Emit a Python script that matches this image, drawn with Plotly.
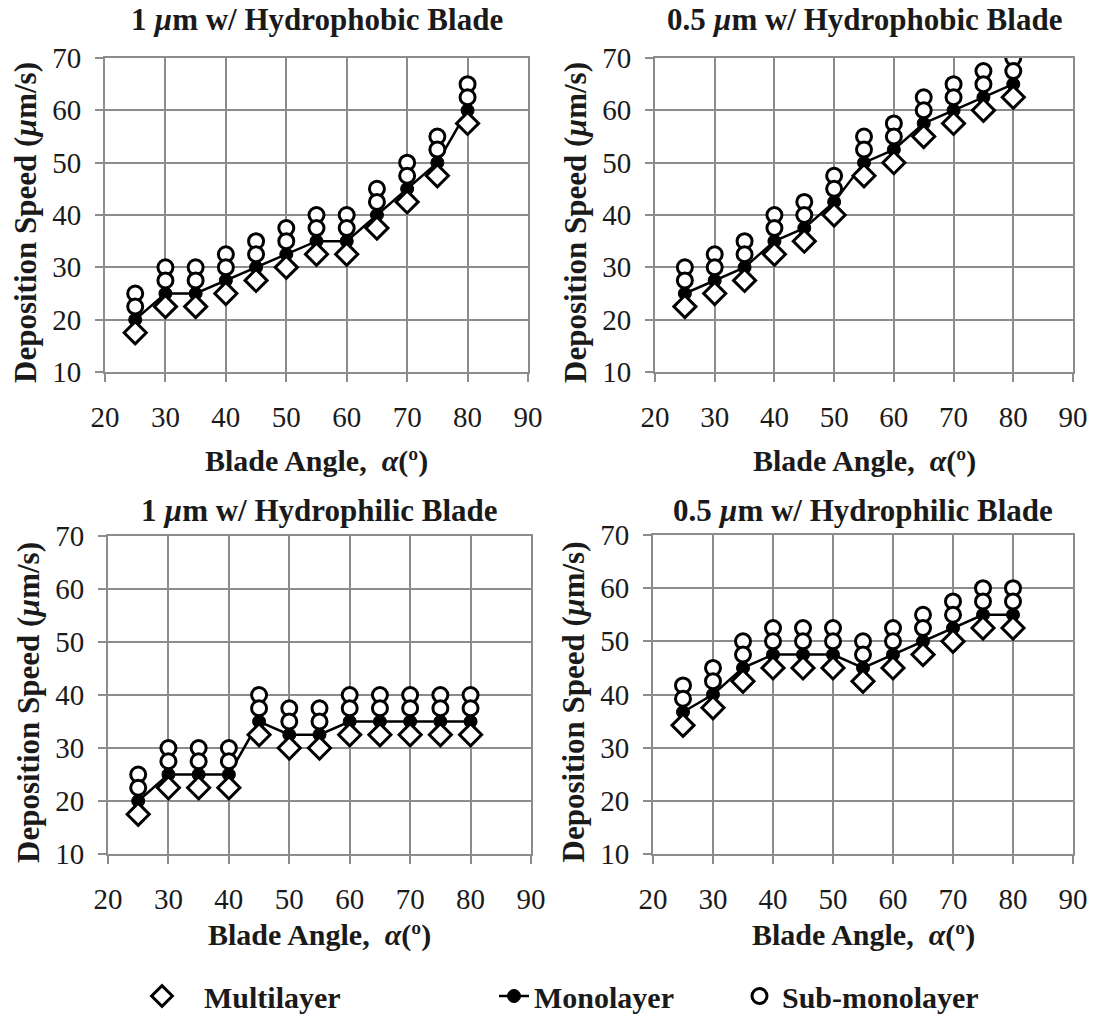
import plotly.graph_objects as go

# Blade angle (degrees) shared by all four panels
angles = [25, 30, 35, 40, 45, 50, 55, 60, 65, 70, 75, 80]

# 1 um particles, hydrophobic blade
p1_multi = [17.5, 22.5, 22.5, 25, 27.5, 30, 32.5, 32.5, 37.5, 42.5, 47.5, 57.5]
p1_mono = [20, 25, 25, 27.5, 30, 32.5, 35, 35, 40, 45, 50, 60]
p1_sub_lo = [22.5, 27.5, 27.5, 30, 32.5, 35, 37.5, 37.5, 42.5, 47.5, 52.5, 62.5]
p1_sub_hi = [25, 30, 30, 32.5, 35, 37.5, 40, 40, 45, 50, 55, 65]

# 0.5 um particles, hydrophobic blade
p2_multi = [22.5, 25, 27.5, 32.5, 35, 40, 47.5, 50, 55, 57.5, 60, 62.5]
p2_mono = [25, 27.5, 30, 35, 37.5, 42.5, 50, 52.5, 57.5, 60, 62.5, 65]
p2_sub_lo = [27.5, 30, 32.5, 37.5, 40, 45, 52.5, 55, 60, 62.5, 65, 67.5]
p2_sub_hi = [30, 32.5, 35, 40, 42.5, 47.5, 55, 57.5, 62.5, 65, 67.5, 70]

# 1 um particles, hydrophilic blade
p3_multi = [17.5, 22.5, 22.5, 22.5, 32.5, 30, 30, 32.5, 32.5, 32.5, 32.5, 32.5]
p3_mono = [20, 25, 25, 25, 35, 32.5, 32.5, 35, 35, 35, 35, 35]
p3_sub_lo = [22.5, 27.5, 27.5, 27.5, 37.5, 35, 35, 37.5, 37.5, 37.5, 37.5, 37.5]
p3_sub_hi = [25, 30, 30, 30, 40, 37.5, 37.5, 40, 40, 40, 40, 40]

# 0.5 um particles, hydrophilic blade
p4_multi = [34.2, 37.5, 42.5, 45, 45, 45, 42.5, 45, 47.5, 50, 52.5, 52.5]
p4_mono = [36.7, 40, 45, 47.5, 47.5, 47.5, 45, 47.5, 50, 52.5, 55, 55]
p4_sub_lo = [39.2, 42.5, 47.5, 50, 50, 50, 47.5, 50, 52.5, 55, 57.5, 57.5]
p4_sub_hi = [41.7, 45, 50, 52.5, 52.5, 52.5, 50, 52.5, 55, 57.5, 60, 60]

panel_titles = [
    "1 <i>µ</i>m w/ Hydrophobic Blade",
    "0.5 <i>µ</i>m w/ Hydrophobic Blade",
    "1 <i>µ</i>m w/ Hydrophilic Blade",
    "0.5 <i>µ</i>m w/ Hydrophilic Blade",
]
x_title = "Blade Angle,  <i>α</i>(º)"
y_title = "Deposition Speed (<i>µ</i>m/s)"
series_names = ["Multilayer", "Monolayer", "Sub-monolayer"]
x_ticks = [20, 30, 40, 50, 60, 70, 80, 90]
y_ticks = [10, 20, 30, 40, 50, 60, 70]

panels = [
    (p1_multi, p1_mono, p1_sub_lo, p1_sub_hi),
    (p2_multi, p2_mono, p2_sub_lo, p2_sub_hi),
    (p3_multi, p3_mono, p3_sub_lo, p3_sub_hi),
    (p4_multi, p4_mono, p4_sub_lo, p4_sub_hi),
]

W, H = 1098, 1016
FONT = "Liberation Serif"
GRID = "#8c8c8c"
INK = "#1a1a1a"

# plot-area boxes in pixels: (left, right, top, bottom),
# plus offsets of the panel title above and the x title below the box
boxes = [
    (105, 528, 58, 372, 38, 89),
    (655, 1073, 58, 372, 38, 89),
    (108, 531, 536, 854, 26, 81),
    (653, 1073, 535, 854, 25, 81),
]


def fx(px):
    return px / W


def fy(px):
    return 1 - px / H


def label(text, x, y, size, angle=0):
    return dict(text="<b>" + text + "</b>", x=fx(x), y=fy(y),
                xref="paper", yref="paper", xanchor="center", yanchor="middle",
                showarrow=False, textangle=angle,
                font=dict(family=FONT, size=size, color=INK))


fig = go.Figure()
layout = dict(
    width=W, height=H,
    margin=dict(l=0, r=0, t=0, b=0, autoexpand=False),
    paper_bgcolor="white", plot_bgcolor="white",
    font=dict(family=FONT, color=INK),
    annotations=[],
)

for i, ((multi, mono, sub_lo, sub_hi), box) in enumerate(zip(panels, boxes)):
    n = "" if i == 0 else str(i + 1)
    xa, ya = "x" + n, "y" + n
    left, right, top, bottom, t_off, x_off = box
    first = i == 0

    fig.add_trace(go.Scatter(
        x=angles, y=mono, xaxis=xa, yaxis=ya, mode="lines+markers",
        name=series_names[1], legend="legend2", showlegend=first,
        line=dict(color="black", width=2.5),
        marker=dict(symbol="circle", size=13, color="black",
                    line=dict(color="black", width=1)),
    ))
    fig.add_trace(go.Scatter(
        x=angles, y=multi, xaxis=xa, yaxis=ya, mode="markers",
        name=series_names[0], legend="legend", showlegend=first,
        marker=dict(symbol="diamond", size=17, color="white",
                    line=dict(color="black", width=3)),
    ))
    fig.add_trace(go.Scatter(
        x=angles + angles, y=sub_hi + sub_lo, xaxis=xa, yaxis=ya, mode="markers",
        name=series_names[2], legend="legend3", showlegend=first,
        marker=dict(symbol="circle", size=15, color="white",
                    line=dict(color="black", width=3)),
    ))

    axis_common = dict(
        showgrid=True, gridcolor=GRID, gridwidth=2,
        showline=True, linecolor=GRID, linewidth=2, mirror=True,
        ticks="outside", ticklen=8, tickwidth=2, tickcolor=GRID,
        tickfont=dict(family=FONT, size=29, color=INK),
        zeroline=False, fixedrange=True, automargin=False,
    )
    layout["xaxis" + n] = dict(
        axis_common, domain=[fx(left), fx(right)], anchor=ya,
        range=[20, 90], tickvals=x_ticks, ticklabelstandoff=10,
    )
    layout["yaxis" + n] = dict(
        axis_common, domain=[fy(bottom), fy(top)], anchor=xa,
        range=[10, 70], tickvals=y_ticks, ticklabelstandoff=8,
    )

    cx = (left + right) / 2
    layout["annotations"] += [
        label(panel_titles[i], cx, top - t_off, 31),
        label(x_title, cx, bottom + x_off, 30),
        label(y_title, left - 80, (top + bottom) / 2 + 8, 31, angle=-90),
    ]

legend_font = dict(family=FONT, size=30, color=INK, weight="bold")
leg_common = dict(orientation="h", yanchor="middle", y=fy(996), xanchor="left",
                  font=legend_font, bgcolor="rgba(0,0,0,0)", itemclick=False)
layout["legend"] = dict(leg_common, x=fx(120), itemwidth=74)
layout["legend2"] = dict(leg_common, x=fx(494))
layout["legend3"] = dict(leg_common, x=fx(737), itemwidth=35)

fig.update_layout(**layout)
fig.write_html("out.html")
